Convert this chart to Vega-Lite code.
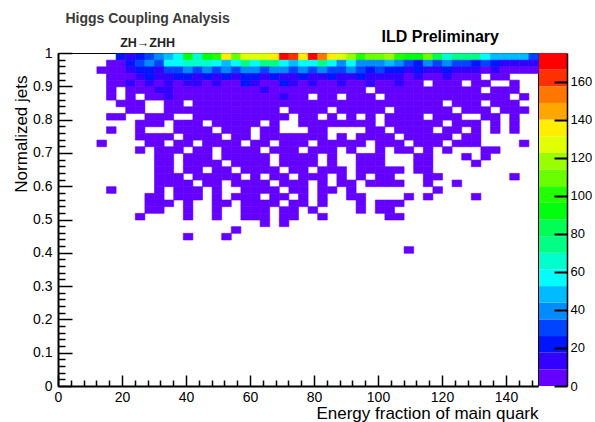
{
  "$schema": "https://vega.github.io/schema/vega-lite/v6.json",
  "background": "white",
  "padding": {"left": 11, "top": 11, "right": 0, "bottom": 0},
  "config": {
    "font": "Liberation Sans",
    "view": {"stroke": null},
    "axis": {"grid": false, "labelColor": "black", "tickColor": "black", "domainColor": "black", "labelFont": "Liberation Sans", "titleFont": "Liberation Sans", "titleColor": "black", "titleFontWeight": "normal", "labelOverlap": false, "labelFlush": false, "tickWidth": 1.5}
  },
  "datasets": {
    "levels": [
      {"lo": 0, "hi": 8.75}, {"lo": 8.75, "hi": 17.5}, {"lo": 17.5, "hi": 26.25}, {"lo": 26.25, "hi": 35},
      {"lo": 35, "hi": 43.75}, {"lo": 43.75, "hi": 52.5}, {"lo": 52.5, "hi": 61.25}, {"lo": 61.25, "hi": 70},
      {"lo": 70, "hi": 78.75}, {"lo": 78.75, "hi": 87.5}, {"lo": 87.5, "hi": 96.25}, {"lo": 96.25, "hi": 105},
      {"lo": 105, "hi": 113.75}, {"lo": 113.75, "hi": 122.5}, {"lo": 122.5, "hi": 131.25}, {"lo": 131.25, "hi": 140},
      {"lo": 140, "hi": 148.75}, {"lo": 148.75, "hi": 157.5}, {"lo": 157.5, "hi": 166.25}, {"lo": 166.25, "hi": 175}
    ],
    "cells": [
      {"x":18,"y":0.98,"n":22},{"x":21,"y":0.98,"n":13},{"x":24,"y":0.98,"n":22},{"x":27,"y":0.98,"n":31},{"x":30,"y":0.98,"n":39},{"x":33,"y":0.98,"n":48},{"x":36,"y":0.98,"n":57},{"x":39,"y":0.98,"n":92},{"x":42,"y":0.98,"n":66},{"x":45,"y":0.98,"n":92},{"x":48,"y":0.98,"n":101},{"x":51,"y":0.98,"n":136},{"x":54,"y":0.98,"n":109},{"x":57,"y":0.98,"n":127},{"x":60,"y":0.98,"n":127},{"x":63,"y":0.98,"n":126},{"x":66,"y":0.98,"n":136},{"x":69,"y":0.98,"n":171},{"x":72,"y":0.98,"n":162},{"x":75,"y":0.98,"n":136},{"x":78,"y":0.98,"n":174},{"x":81,"y":0.98,"n":153},{"x":84,"y":0.98,"n":136},{"x":87,"y":0.98,"n":127},{"x":90,"y":0.98,"n":118},{"x":93,"y":0.98,"n":101},{"x":96,"y":0.98,"n":109},{"x":99,"y":0.98,"n":109},{"x":102,"y":0.98,"n":118},{"x":105,"y":0.98,"n":101},{"x":108,"y":0.98,"n":92},{"x":111,"y":0.98,"n":92},{"x":114,"y":0.98,"n":109},{"x":117,"y":0.98,"n":83},{"x":120,"y":0.98,"n":66},{"x":123,"y":0.98,"n":74},{"x":126,"y":0.98,"n":74},{"x":129,"y":0.98,"n":74},{"x":132,"y":0.98,"n":57},{"x":135,"y":0.98,"n":48},{"x":138,"y":0.98,"n":48},{"x":141,"y":0.98,"n":48},{"x":144,"y":0.98,"n":48},{"x":147,"y":0.98,"n":31},
      {"x":15,"y":0.96,"n":4},{"x":18,"y":0.96,"n":5},{"x":21,"y":0.96,"n":22},{"x":24,"y":0.96,"n":31},{"x":27,"y":0.96,"n":39},{"x":30,"y":0.96,"n":31},{"x":33,"y":0.96,"n":57},{"x":36,"y":0.96,"n":57},{"x":39,"y":0.96,"n":66},{"x":42,"y":0.96,"n":66},{"x":45,"y":0.96,"n":66},{"x":48,"y":0.96,"n":57},{"x":51,"y":0.96,"n":48},{"x":54,"y":0.96,"n":57},{"x":57,"y":0.96,"n":74},{"x":60,"y":0.96,"n":57},{"x":63,"y":0.96,"n":74},{"x":66,"y":0.96,"n":74},{"x":69,"y":0.96,"n":57},{"x":72,"y":0.96,"n":48},{"x":75,"y":0.96,"n":57},{"x":78,"y":0.96,"n":57},{"x":81,"y":0.96,"n":74},{"x":84,"y":0.96,"n":57},{"x":87,"y":0.96,"n":39},{"x":90,"y":0.96,"n":57},{"x":93,"y":0.96,"n":39},{"x":96,"y":0.96,"n":39},{"x":99,"y":0.96,"n":39},{"x":102,"y":0.96,"n":48},{"x":105,"y":0.96,"n":39},{"x":108,"y":0.96,"n":31},{"x":111,"y":0.96,"n":22},{"x":114,"y":0.96,"n":39},{"x":117,"y":0.96,"n":31},{"x":120,"y":0.96,"n":39},{"x":123,"y":0.96,"n":31},{"x":126,"y":0.96,"n":31},{"x":129,"y":0.96,"n":22},{"x":132,"y":0.96,"n":31},{"x":135,"y":0.96,"n":22},{"x":138,"y":0.96,"n":13},{"x":141,"y":0.96,"n":13},{"x":144,"y":0.96,"n":13},{"x":147,"y":0.96,"n":13},
      {"x":12,"y":0.94,"n":3},{"x":15,"y":0.94,"n":5},{"x":18,"y":0.94,"n":6},{"x":21,"y":0.94,"n":13},{"x":24,"y":0.94,"n":22},{"x":27,"y":0.94,"n":22},{"x":30,"y":0.94,"n":13},{"x":33,"y":0.94,"n":31},{"x":36,"y":0.94,"n":31},{"x":39,"y":0.94,"n":39},{"x":42,"y":0.94,"n":31},{"x":45,"y":0.94,"n":39},{"x":48,"y":0.94,"n":31},{"x":51,"y":0.94,"n":39},{"x":54,"y":0.94,"n":31},{"x":57,"y":0.94,"n":39},{"x":60,"y":0.94,"n":39},{"x":63,"y":0.94,"n":31},{"x":66,"y":0.94,"n":39},{"x":69,"y":0.94,"n":39},{"x":72,"y":0.94,"n":31},{"x":75,"y":0.94,"n":39},{"x":78,"y":0.94,"n":31},{"x":81,"y":0.94,"n":39},{"x":84,"y":0.94,"n":31},{"x":87,"y":0.94,"n":31},{"x":90,"y":0.94,"n":39},{"x":93,"y":0.94,"n":31},{"x":96,"y":0.94,"n":22},{"x":99,"y":0.94,"n":31},{"x":102,"y":0.94,"n":22},{"x":105,"y":0.94,"n":22},{"x":108,"y":0.94,"n":13},{"x":111,"y":0.94,"n":22},{"x":114,"y":0.94,"n":13},{"x":117,"y":0.94,"n":13},{"x":120,"y":0.94,"n":22},{"x":123,"y":0.94,"n":13},{"x":126,"y":0.94,"n":13},{"x":129,"y":0.94,"n":13},{"x":132,"y":0.94,"n":7},{"x":135,"y":0.94,"n":13},{"x":138,"y":0.94,"n":7},{"x":141,"y":0.94,"n":6},{"x":144,"y":0.94,"n":5},{"x":147,"y":0.94,"n":4},
      {"x":15,"y":0.92,"n":3},{"x":18,"y":0.92,"n":6},{"x":21,"y":0.92,"n":7},{"x":24,"y":0.92,"n":13},{"x":27,"y":0.92,"n":20},{"x":30,"y":0.92,"n":14},{"x":33,"y":0.92,"n":12},{"x":36,"y":0.92,"n":19},{"x":39,"y":0.92,"n":21},{"x":42,"y":0.92,"n":15},{"x":45,"y":0.92,"n":19},{"x":48,"y":0.92,"n":14},{"x":51,"y":0.92,"n":20},{"x":54,"y":0.92,"n":13},{"x":57,"y":0.92,"n":21},{"x":60,"y":0.92,"n":19},{"x":63,"y":0.92,"n":15},{"x":66,"y":0.92,"n":20},{"x":69,"y":0.92,"n":14},{"x":72,"y":0.92,"n":12},{"x":75,"y":0.92,"n":19},{"x":78,"y":0.92,"n":16},{"x":81,"y":0.92,"n":13},{"x":84,"y":0.92,"n":20},{"x":87,"y":0.92,"n":14},{"x":90,"y":0.92,"n":12},{"x":93,"y":0.92,"n":18},{"x":96,"y":0.92,"n":15},{"x":99,"y":0.92,"n":12},{"x":102,"y":0.92,"n":11},{"x":105,"y":0.92,"n":10},{"x":108,"y":0.92,"n":8},{"x":111,"y":0.92,"n":11},{"x":114,"y":0.92,"n":7},{"x":117,"y":0.92,"n":6},{"x":120,"y":0.92,"n":10},{"x":123,"y":0.92,"n":7},{"x":126,"y":0.92,"n":5},{"x":129,"y":0.92,"n":4},{"x":135,"y":0.92,"n":3},{"x":138,"y":0.92,"n":2},
      {"x":15,"y":0.9,"n":4},{"x":18,"y":0.9,"n":6},{"x":21,"y":0.9,"n":10},{"x":24,"y":0.9,"n":7},{"x":27,"y":0.9,"n":11},{"x":30,"y":0.9,"n":8},{"x":33,"y":0.9,"n":12},{"x":36,"y":0.9,"n":8},{"x":39,"y":0.9,"n":10},{"x":42,"y":0.9,"n":11},{"x":45,"y":0.9,"n":8},{"x":48,"y":0.9,"n":12},{"x":51,"y":0.9,"n":7},{"x":54,"y":0.9,"n":8},{"x":57,"y":0.9,"n":18},{"x":60,"y":0.9,"n":13},{"x":63,"y":0.9,"n":8},{"x":66,"y":0.9,"n":7},{"x":69,"y":0.9,"n":19},{"x":72,"y":0.9,"n":11},{"x":75,"y":0.9,"n":8},{"x":78,"y":0.9,"n":10},{"x":81,"y":0.9,"n":7},{"x":84,"y":0.9,"n":8},{"x":87,"y":0.9,"n":10},{"x":90,"y":0.9,"n":8},{"x":93,"y":0.9,"n":7},{"x":96,"y":0.9,"n":10},{"x":99,"y":0.9,"n":7},{"x":102,"y":0.9,"n":6},{"x":105,"y":0.9,"n":9},{"x":108,"y":0.9,"n":6},{"x":111,"y":0.9,"n":5},{"x":117,"y":0.9,"n":5},{"x":120,"y":0.9,"n":4},{"x":123,"y":0.9,"n":4},{"x":129,"y":0.9,"n":3},{"x":132,"y":0.9,"n":3},{"x":141,"y":0.9,"n":2},
      {"x":15,"y":0.88,"n":3},{"x":21,"y":0.88,"n":5},{"x":24,"y":0.88,"n":6},{"x":27,"y":0.88,"n":7},{"x":30,"y":0.88,"n":10},{"x":33,"y":0.88,"n":9},{"x":36,"y":0.88,"n":7},{"x":39,"y":0.88,"n":8},{"x":42,"y":0.88,"n":7},{"x":45,"y":0.88,"n":8},{"x":48,"y":0.88,"n":6},{"x":51,"y":0.88,"n":7},{"x":54,"y":0.88,"n":8},{"x":57,"y":0.88,"n":7},{"x":60,"y":0.88,"n":6},{"x":63,"y":0.88,"n":10},{"x":66,"y":0.88,"n":7},{"x":69,"y":0.88,"n":8},{"x":72,"y":0.88,"n":6},{"x":75,"y":0.88,"n":7},{"x":78,"y":0.88,"n":6},{"x":81,"y":0.88,"n":8},{"x":84,"y":0.88,"n":7},{"x":87,"y":0.88,"n":6},{"x":90,"y":0.88,"n":7},{"x":93,"y":0.88,"n":6},{"x":99,"y":0.88,"n":5},{"x":102,"y":0.88,"n":6},{"x":105,"y":0.88,"n":5},{"x":108,"y":0.88,"n":4},{"x":111,"y":0.88,"n":5},{"x":114,"y":0.88,"n":4},{"x":117,"y":0.88,"n":3},{"x":120,"y":0.88,"n":4},{"x":123,"y":0.88,"n":3},{"x":126,"y":0.88,"n":3},{"x":129,"y":0.88,"n":2},{"x":135,"y":0.88,"n":2},{"x":138,"y":0.88,"n":3},{"x":141,"y":0.88,"n":2},
      {"x":15,"y":0.86,"n":2},{"x":21,"y":0.86,"n":4},{"x":27,"y":0.86,"n":5},{"x":30,"y":0.86,"n":6},{"x":33,"y":0.86,"n":9},{"x":36,"y":0.86,"n":6},{"x":39,"y":0.86,"n":7},{"x":42,"y":0.86,"n":6},{"x":45,"y":0.86,"n":5},{"x":48,"y":0.86,"n":7},{"x":51,"y":0.86,"n":6},{"x":54,"y":0.86,"n":5},{"x":57,"y":0.86,"n":6},{"x":60,"y":0.86,"n":7},{"x":63,"y":0.86,"n":5},{"x":66,"y":0.86,"n":6},{"x":69,"y":0.86,"n":10},{"x":72,"y":0.86,"n":6},{"x":75,"y":0.86,"n":5},{"x":81,"y":0.86,"n":6},{"x":84,"y":0.86,"n":5},{"x":90,"y":0.86,"n":5},{"x":93,"y":0.86,"n":6},{"x":96,"y":0.86,"n":4},{"x":102,"y":0.86,"n":5},{"x":105,"y":0.86,"n":4},{"x":108,"y":0.86,"n":5},{"x":111,"y":0.86,"n":4},{"x":114,"y":0.86,"n":3},{"x":117,"y":0.86,"n":4},{"x":120,"y":0.86,"n":3},{"x":123,"y":0.86,"n":3},{"x":126,"y":0.86,"n":2},{"x":129,"y":0.86,"n":3},{"x":132,"y":0.86,"n":2},{"x":135,"y":0.86,"n":2},{"x":138,"y":0.86,"n":1},{"x":144,"y":0.86,"n":1},
      {"x":18,"y":0.84,"n":3},{"x":21,"y":0.84,"n":4},{"x":24,"y":0.84,"n":5},{"x":33,"y":0.84,"n":5},{"x":36,"y":0.84,"n":6},{"x":42,"y":0.84,"n":6},{"x":45,"y":0.84,"n":5},{"x":48,"y":0.84,"n":6},{"x":51,"y":0.84,"n":5},{"x":54,"y":0.84,"n":6},{"x":57,"y":0.84,"n":5},{"x":60,"y":0.84,"n":6},{"x":63,"y":0.84,"n":5},{"x":66,"y":0.84,"n":4},{"x":69,"y":0.84,"n":5},{"x":72,"y":0.84,"n":6},{"x":75,"y":0.84,"n":5},{"x":78,"y":0.84,"n":4},{"x":81,"y":0.84,"n":5},{"x":84,"y":0.84,"n":6},{"x":87,"y":0.84,"n":5},{"x":90,"y":0.84,"n":4},{"x":93,"y":0.84,"n":5},{"x":96,"y":0.84,"n":4},{"x":99,"y":0.84,"n":5},{"x":102,"y":0.84,"n":4},{"x":105,"y":0.84,"n":3},{"x":108,"y":0.84,"n":4},{"x":111,"y":0.84,"n":3},{"x":114,"y":0.84,"n":4},{"x":117,"y":0.84,"n":3},{"x":123,"y":0.84,"n":3},{"x":126,"y":0.84,"n":2},{"x":129,"y":0.84,"n":3},{"x":135,"y":0.84,"n":2},{"x":138,"y":0.84,"n":2},{"x":141,"y":0.84,"n":1},
      {"x":21,"y":0.82,"n":2},{"x":24,"y":0.82,"n":3},{"x":33,"y":0.82,"n":4},{"x":36,"y":0.82,"n":5},{"x":39,"y":0.82,"n":4},{"x":42,"y":0.82,"n":5},{"x":45,"y":0.82,"n":4},{"x":48,"y":0.82,"n":5},{"x":51,"y":0.82,"n":6},{"x":54,"y":0.82,"n":4},{"x":57,"y":0.82,"n":5},{"x":60,"y":0.82,"n":5},{"x":63,"y":0.82,"n":4},{"x":66,"y":0.82,"n":5},{"x":72,"y":0.82,"n":4},{"x":75,"y":0.82,"n":5},{"x":78,"y":0.82,"n":4},{"x":81,"y":0.82,"n":5},{"x":87,"y":0.82,"n":4},{"x":90,"y":0.82,"n":5},{"x":93,"y":0.82,"n":4},{"x":96,"y":0.82,"n":3},{"x":99,"y":0.82,"n":4},{"x":105,"y":0.82,"n":3},{"x":108,"y":0.82,"n":4},{"x":111,"y":0.82,"n":3},{"x":114,"y":0.82,"n":3},{"x":117,"y":0.82,"n":4},{"x":120,"y":0.82,"n":3},{"x":126,"y":0.82,"n":2},{"x":129,"y":0.82,"n":3},{"x":132,"y":0.82,"n":2},{"x":138,"y":0.82,"n":2},{"x":141,"y":0.82,"n":1},{"x":144,"y":0.82,"n":1},
      {"x":15,"y":0.8,"n":1},{"x":18,"y":0.8,"n":2},{"x":27,"y":0.8,"n":3},{"x":30,"y":0.8,"n":4},{"x":33,"y":0.8,"n":3},{"x":42,"y":0.8,"n":4},{"x":45,"y":0.8,"n":5},{"x":48,"y":0.8,"n":4},{"x":51,"y":0.8,"n":3},{"x":54,"y":0.8,"n":4},{"x":57,"y":0.8,"n":5},{"x":60,"y":0.8,"n":4},{"x":63,"y":0.8,"n":3},{"x":66,"y":0.8,"n":4},{"x":69,"y":0.8,"n":3},{"x":75,"y":0.8,"n":4},{"x":78,"y":0.8,"n":3},{"x":84,"y":0.8,"n":4},{"x":90,"y":0.8,"n":3},{"x":96,"y":0.8,"n":3},{"x":102,"y":0.8,"n":4},{"x":105,"y":0.8,"n":3},{"x":108,"y":0.8,"n":2},{"x":111,"y":0.8,"n":3},{"x":117,"y":0.8,"n":2},{"x":120,"y":0.8,"n":3},{"x":123,"y":0.8,"n":2},{"x":132,"y":0.8,"n":2},{"x":135,"y":0.8,"n":1},{"x":141,"y":0.8,"n":1},
      {"x":24,"y":0.78,"n":2},{"x":27,"y":0.78,"n":3},{"x":30,"y":0.78,"n":3},{"x":36,"y":0.78,"n":4},{"x":39,"y":0.78,"n":3},{"x":42,"y":0.78,"n":4},{"x":48,"y":0.78,"n":3},{"x":51,"y":0.78,"n":4},{"x":54,"y":0.78,"n":3},{"x":57,"y":0.78,"n":4},{"x":60,"y":0.78,"n":3},{"x":66,"y":0.78,"n":4},{"x":75,"y":0.78,"n":3},{"x":78,"y":0.78,"n":4},{"x":81,"y":0.78,"n":3},{"x":84,"y":0.78,"n":4},{"x":87,"y":0.78,"n":3},{"x":90,"y":0.78,"n":3},{"x":93,"y":0.78,"n":4},{"x":96,"y":0.78,"n":3},{"x":102,"y":0.78,"n":3},{"x":105,"y":0.78,"n":2},{"x":108,"y":0.78,"n":3},{"x":111,"y":0.78,"n":2},{"x":114,"y":0.78,"n":3},{"x":117,"y":0.78,"n":2},{"x":123,"y":0.78,"n":2},{"x":126,"y":0.78,"n":1},{"x":129,"y":0.78,"n":2},{"x":135,"y":0.78,"n":1},{"x":141,"y":0.78,"n":1},
      {"x":15,"y":0.76,"n":1},{"x":24,"y":0.76,"n":2},{"x":36,"y":0.76,"n":3},{"x":39,"y":0.76,"n":2},{"x":42,"y":0.76,"n":3},{"x":45,"y":0.76,"n":3},{"x":51,"y":0.76,"n":2},{"x":54,"y":0.76,"n":3},{"x":57,"y":0.76,"n":3},{"x":63,"y":0.76,"n":3},{"x":66,"y":0.76,"n":2},{"x":78,"y":0.76,"n":3},{"x":81,"y":0.76,"n":2},{"x":96,"y":0.76,"n":2},{"x":99,"y":0.76,"n":3},{"x":105,"y":0.76,"n":2},{"x":108,"y":0.76,"n":3},{"x":111,"y":0.76,"n":2},{"x":114,"y":0.76,"n":2},{"x":120,"y":0.76,"n":2},{"x":123,"y":0.76,"n":1},{"x":129,"y":0.76,"n":1},{"x":135,"y":0.76,"n":1},{"x":141,"y":0.76,"n":1},
      {"x":24,"y":0.74,"n":1},{"x":27,"y":0.74,"n":2},{"x":30,"y":0.74,"n":3},{"x":33,"y":0.74,"n":2},{"x":39,"y":0.74,"n":3},{"x":42,"y":0.74,"n":2},{"x":45,"y":0.74,"n":3},{"x":48,"y":0.74,"n":2},{"x":54,"y":0.74,"n":3},{"x":57,"y":0.74,"n":2},{"x":63,"y":0.74,"n":3},{"x":66,"y":0.74,"n":2},{"x":69,"y":0.74,"n":3},{"x":72,"y":0.74,"n":2},{"x":75,"y":0.74,"n":3},{"x":78,"y":0.74,"n":2},{"x":81,"y":0.74,"n":2},{"x":87,"y":0.74,"n":2},{"x":93,"y":0.74,"n":2},{"x":96,"y":0.74,"n":3},{"x":99,"y":0.74,"n":2},{"x":102,"y":0.74,"n":2},{"x":108,"y":0.74,"n":2},{"x":111,"y":0.74,"n":1},{"x":114,"y":0.74,"n":2},{"x":117,"y":0.74,"n":1},{"x":120,"y":0.74,"n":1},{"x":126,"y":0.74,"n":1},{"x":129,"y":0.74,"n":2},
      {"x":12,"y":0.72,"n":1},{"x":27,"y":0.72,"n":2},{"x":30,"y":0.72,"n":2},{"x":36,"y":0.72,"n":3},{"x":39,"y":0.72,"n":2},{"x":45,"y":0.72,"n":2},{"x":48,"y":0.72,"n":3},{"x":51,"y":0.72,"n":2},{"x":54,"y":0.72,"n":2},{"x":60,"y":0.72,"n":2},{"x":63,"y":0.72,"n":3},{"x":69,"y":0.72,"n":2},{"x":72,"y":0.72,"n":2},{"x":75,"y":0.72,"n":3},{"x":81,"y":0.72,"n":2},{"x":84,"y":0.72,"n":2},{"x":87,"y":0.72,"n":2},{"x":90,"y":0.72,"n":2},{"x":93,"y":0.72,"n":1},{"x":99,"y":0.72,"n":2},{"x":102,"y":0.72,"n":2},{"x":105,"y":0.72,"n":1},{"x":111,"y":0.72,"n":2},{"x":114,"y":0.72,"n":1},{"x":117,"y":0.72,"n":2},{"x":123,"y":0.72,"n":1},{"x":126,"y":0.72,"n":1},{"x":129,"y":0.72,"n":1},{"x":144,"y":0.72,"n":1},
      {"x":24,"y":0.7,"n":1},{"x":30,"y":0.7,"n":2},{"x":33,"y":0.7,"n":2},{"x":36,"y":0.7,"n":1},{"x":42,"y":0.7,"n":2},{"x":45,"y":0.7,"n":2},{"x":51,"y":0.7,"n":2},{"x":54,"y":0.7,"n":1},{"x":57,"y":0.7,"n":2},{"x":60,"y":0.7,"n":2},{"x":66,"y":0.7,"n":2},{"x":69,"y":0.7,"n":1},{"x":72,"y":0.7,"n":2},{"x":78,"y":0.7,"n":2},{"x":81,"y":0.7,"n":1},{"x":84,"y":0.7,"n":2},{"x":90,"y":0.7,"n":1},{"x":99,"y":0.7,"n":2},{"x":105,"y":0.7,"n":1},{"x":108,"y":0.7,"n":2},{"x":114,"y":0.7,"n":1},{"x":120,"y":0.7,"n":1},{"x":132,"y":0.7,"n":1},{"x":135,"y":0.7,"n":1},
      {"x":30,"y":0.68,"n":1},{"x":33,"y":0.68,"n":2},{"x":39,"y":0.68,"n":2},{"x":42,"y":0.68,"n":1},{"x":45,"y":0.68,"n":2},{"x":51,"y":0.68,"n":1},{"x":54,"y":0.68,"n":2},{"x":57,"y":0.68,"n":1},{"x":60,"y":0.68,"n":2},{"x":63,"y":0.68,"n":1},{"x":69,"y":0.68,"n":2},{"x":72,"y":0.68,"n":1},{"x":75,"y":0.68,"n":2},{"x":78,"y":0.68,"n":1},{"x":84,"y":0.68,"n":1},{"x":93,"y":0.68,"n":1},{"x":96,"y":0.68,"n":2},{"x":99,"y":0.68,"n":1},{"x":111,"y":0.68,"n":1},{"x":114,"y":0.68,"n":1},{"x":126,"y":0.68,"n":1},{"x":132,"y":0.68,"n":1},
      {"x":30,"y":0.66,"n":1},{"x":33,"y":0.66,"n":1},{"x":39,"y":0.66,"n":2},{"x":42,"y":0.66,"n":1},{"x":45,"y":0.66,"n":2},{"x":48,"y":0.66,"n":1},{"x":54,"y":0.66,"n":1},{"x":57,"y":0.66,"n":2},{"x":60,"y":0.66,"n":1},{"x":63,"y":0.66,"n":1},{"x":69,"y":0.66,"n":2},{"x":72,"y":0.66,"n":1},{"x":75,"y":0.66,"n":1},{"x":78,"y":0.66,"n":2},{"x":84,"y":0.66,"n":1},{"x":93,"y":0.66,"n":1},{"x":96,"y":0.66,"n":1},{"x":99,"y":0.66,"n":2},{"x":111,"y":0.66,"n":1},{"x":114,"y":0.66,"n":1},{"x":129,"y":0.66,"n":1},
      {"x":30,"y":0.64,"n":1},{"x":33,"y":0.64,"n":1},{"x":39,"y":0.64,"n":1},{"x":42,"y":0.64,"n":2},{"x":48,"y":0.64,"n":1},{"x":51,"y":0.64,"n":1},{"x":57,"y":0.64,"n":1},{"x":60,"y":0.64,"n":2},{"x":63,"y":0.64,"n":1},{"x":66,"y":0.64,"n":1},{"x":72,"y":0.64,"n":1},{"x":75,"y":0.64,"n":2},{"x":81,"y":0.64,"n":1},{"x":84,"y":0.64,"n":1},{"x":87,"y":0.64,"n":1},{"x":93,"y":0.64,"n":1},{"x":96,"y":0.64,"n":1},{"x":99,"y":0.64,"n":2},{"x":102,"y":0.64,"n":1},{"x":105,"y":0.64,"n":1},{"x":111,"y":0.64,"n":1},{"x":114,"y":0.64,"n":1},
      {"x":30,"y":0.62,"n":1},{"x":33,"y":0.62,"n":1},{"x":36,"y":0.62,"n":1},{"x":42,"y":0.62,"n":1},{"x":45,"y":0.62,"n":2},{"x":48,"y":0.62,"n":1},{"x":51,"y":0.62,"n":1},{"x":54,"y":0.62,"n":1},{"x":60,"y":0.62,"n":1},{"x":66,"y":0.62,"n":1},{"x":69,"y":0.62,"n":2},{"x":75,"y":0.62,"n":1},{"x":78,"y":0.62,"n":1},{"x":81,"y":0.62,"n":1},{"x":87,"y":0.62,"n":1},{"x":93,"y":0.62,"n":1},{"x":99,"y":0.62,"n":1},{"x":102,"y":0.62,"n":1},{"x":114,"y":0.62,"n":1},{"x":117,"y":0.62,"n":1},{"x":141,"y":0.62,"n":1},
      {"x":30,"y":0.6,"n":1},{"x":33,"y":0.6,"n":1},{"x":36,"y":0.6,"n":1},{"x":39,"y":0.6,"n":1},{"x":45,"y":0.6,"n":1},{"x":48,"y":0.6,"n":1},{"x":54,"y":0.6,"n":1},{"x":57,"y":0.6,"n":1},{"x":60,"y":0.6,"n":1},{"x":63,"y":0.6,"n":1},{"x":69,"y":0.6,"n":1},{"x":72,"y":0.6,"n":1},{"x":75,"y":0.6,"n":1},{"x":81,"y":0.6,"n":1},{"x":87,"y":0.6,"n":1},{"x":90,"y":0.6,"n":1},{"x":96,"y":0.6,"n":1},{"x":99,"y":0.6,"n":1},{"x":102,"y":0.6,"n":1},{"x":105,"y":0.6,"n":1},{"x":114,"y":0.6,"n":1},{"x":123,"y":0.6,"n":1},
      {"x":15,"y":0.58,"n":1},{"x":30,"y":0.58,"n":1},{"x":36,"y":0.58,"n":1},{"x":39,"y":0.58,"n":1},{"x":42,"y":0.58,"n":1},{"x":48,"y":0.58,"n":1},{"x":57,"y":0.58,"n":1},{"x":60,"y":0.58,"n":1},{"x":63,"y":0.58,"n":1},{"x":66,"y":0.58,"n":1},{"x":72,"y":0.58,"n":1},{"x":75,"y":0.58,"n":1},{"x":81,"y":0.58,"n":1},{"x":84,"y":0.58,"n":1},{"x":90,"y":0.58,"n":1},{"x":117,"y":0.58,"n":1},
      {"x":27,"y":0.56,"n":1},{"x":30,"y":0.56,"n":1},{"x":36,"y":0.56,"n":1},{"x":39,"y":0.56,"n":1},{"x":42,"y":0.56,"n":1},{"x":48,"y":0.56,"n":1},{"x":54,"y":0.56,"n":1},{"x":57,"y":0.56,"n":1},{"x":60,"y":0.56,"n":1},{"x":66,"y":0.56,"n":1},{"x":69,"y":0.56,"n":1},{"x":75,"y":0.56,"n":1},{"x":81,"y":0.56,"n":1},{"x":90,"y":0.56,"n":1},{"x":93,"y":0.56,"n":1},{"x":108,"y":0.56,"n":1},{"x":114,"y":0.56,"n":1},{"x":129,"y":0.56,"n":1},
      {"x":27,"y":0.54,"n":1},{"x":30,"y":0.54,"n":1},{"x":33,"y":0.54,"n":1},{"x":39,"y":0.54,"n":1},{"x":48,"y":0.54,"n":1},{"x":51,"y":0.54,"n":1},{"x":57,"y":0.54,"n":1},{"x":60,"y":0.54,"n":1},{"x":63,"y":0.54,"n":1},{"x":66,"y":0.54,"n":1},{"x":72,"y":0.54,"n":1},{"x":75,"y":0.54,"n":1},{"x":81,"y":0.54,"n":1},{"x":93,"y":0.54,"n":1},{"x":99,"y":0.54,"n":1},{"x":102,"y":0.54,"n":1},{"x":105,"y":0.54,"n":1},
      {"x":27,"y":0.52,"n":1},{"x":30,"y":0.52,"n":1},{"x":39,"y":0.52,"n":1},{"x":48,"y":0.52,"n":1},{"x":57,"y":0.52,"n":1},{"x":60,"y":0.52,"n":1},{"x":63,"y":0.52,"n":1},{"x":69,"y":0.52,"n":1},{"x":72,"y":0.52,"n":1},{"x":78,"y":0.52,"n":1},{"x":93,"y":0.52,"n":1},{"x":99,"y":0.52,"n":1},{"x":102,"y":0.52,"n":1},
      {"x":24,"y":0.5,"n":1},{"x":39,"y":0.5,"n":1},{"x":48,"y":0.5,"n":1},{"x":57,"y":0.5,"n":1},{"x":60,"y":0.5,"n":1},{"x":63,"y":0.5,"n":1},{"x":69,"y":0.5,"n":1},{"x":72,"y":0.5,"n":1},{"x":81,"y":0.5,"n":1},{"x":102,"y":0.5,"n":1},{"x":105,"y":0.5,"n":1},
      {"x":63,"y":0.48,"n":1},{"x":69,"y":0.48,"n":1},
      {"x":54,"y":0.46,"n":1},
      {"x":39,"y":0.44,"n":1},{"x":51,"y":0.44,"n":1},
      {"x":108,"y":0.4,"n":1}
    ]
  },
  "bounds": "flush",
  "spacing": 1,
  "hconcat": [
    {
      "width": 480,
      "height": 333,
      "view": {"stroke": "black", "strokeWidth": 1},
      "layer": [
        {
          "data": {"name": "cells"},
          "mark": {"type": "rect", "strokeWidth": 0.6},
          "encoding": {
            "x": {
              "field": "x", "type": "quantitative", "bin": {"binned": true, "step": 3},
              "scale": {"domain": [0, 150], "nice": false, "zero": false},
              "axis": {
                "zindex": 1,
                "values": [0,4,8,12,16,20,24,28,32,36,40,44,48,52,56,60,64,68,72,76,80,84,88,92,96,100,104,108,112,116,120,124,128,132,136,140,144,148],
                "labelExpr": "datum.value % 20 === 0 ? format(datum.value, 'd') : ''",
                "tickSize": {"condition": {"test": "datum.value % 20 === 0", "value": -11}, "value": -6},
                "labelPadding": 15, "labelFontSize": 14, "domainWidth": 2,
                "title": "Energy fraction of main quark", "titleFontSize": 17,
                "titleAlign": "right", "titleBaseline": "alphabetic", "titleX": 480, "titleY": 32
              }
            },
            "y": {
              "field": "y", "type": "quantitative", "bin": {"binned": true, "step": 0.02},
              "scale": {"domain": [0, 1], "nice": false, "zero": false},
              "axis": {
                "zindex": 1,
                "values": [0,0.02,0.04,0.06,0.08,0.1,0.12,0.14,0.16,0.18,0.2,0.22,0.24,0.26,0.28,0.3,0.32,0.34,0.36,0.38,0.4,0.42,0.44,0.46,0.48,0.5,0.52,0.54,0.56,0.58,0.6,0.62,0.64,0.66,0.68,0.7,0.72,0.74,0.76,0.78,0.8,0.82,0.84,0.86,0.88,0.9,0.92,0.94,0.96,0.98,1],
                "labelExpr": "abs(datum.value * 10 - round(datum.value * 10)) < 0.001 ? format(datum.value, '~g') : ''",
                "tickSize": {"condition": {"test": "abs(datum.value * 10 - round(datum.value * 10)) < 0.001", "value": -14}, "value": -7},
                "labelPadding": 20, "labelFontSize": 14, "domainWidth": 2,
                "title": "Normalized jets", "titleFontSize": 17, "titleAngle": -90,
                "titleAlign": "right", "titleBaseline": "alphabetic", "titleX": -32, "titleY": 22
              }
            },
            "color": {
              "field": "n", "type": "quantitative", "legend": null,
              "scale": {"type": "threshold", "domain": [8.75,17.5,26.25,35,43.75,52.5,61.25,70,78.75,87.5,96.25,105,113.75,122.5,131.25,140,148.75,157.5,166.25],
                "range": ["#6300ff","#3300ff","#0014ff","#0044ff","#008bff","#00bbff","#00fffc","#00ffcc","#00ff85","#00ff55","#00ff0e","#22ff00","#69ff00","#99ff00","#e0ff00","#ffee00","#ffa700","#ff7700","#ff3000","#ff0000"]}
            },
            "stroke": {
              "field": "n", "type": "quantitative", "legend": null,
              "scale": {"type": "threshold", "domain": [8.75,17.5,26.25,35,43.75,52.5,61.25,70,78.75,87.5,96.25,105,113.75,122.5,131.25,140,148.75,157.5,166.25],
                "range": ["#6300ff","#3300ff","#0014ff","#0044ff","#008bff","#00bbff","#00fffc","#00ffcc","#00ff85","#00ff55","#00ff0e","#22ff00","#69ff00","#99ff00","#e0ff00","#ffee00","#ffa700","#ff7700","#ff3000","#ff0000"]}
            }
          }
        },
        {
          "data": {"values": [{"label": "Higgs Coupling Analysis"}]},
          "mark": {"type": "text", "fontSize": 14, "fontWeight": "bold", "color": "#3a3a3a", "align": "center", "baseline": "alphabetic"},
          "encoding": {"x": {"datum": 28}, "y": {"datum": 1.09}, "text": {"field": "label"}}
        },
        {
          "data": {"values": [{"label": "ZH→ZHH"}]},
          "mark": {"type": "text", "fontSize": 12.5, "fontWeight": "bold", "color": "#222222", "align": "center", "baseline": "alphabetic"},
          "encoding": {"x": {"datum": 28}, "y": {"datum": 1.018}, "text": {"field": "label"}}
        },
        {
          "data": {"values": [{"label": "ILD Preliminary"}]},
          "mark": {"type": "text", "fontSize": 16, "fontWeight": "bold", "color": "black", "align": "right", "baseline": "alphabetic"},
          "encoding": {"x": {"datum": 137.8}, "y": {"datum": 1.033}, "text": {"field": "label"}}
        }
      ]
    },
    {
      "width": 28,
      "height": 333,
      "data": {"name": "levels"},
      "mark": {"type": "rect"},
      "encoding": {
        "y": {
          "field": "lo", "type": "quantitative",
          "scale": {"domain": [0, 175], "nice": false},
          "axis": {"zindex": 1, "orient": "right", "values": [0,20,40,60,80,100,120,140,160], "title": null, "tickSize": -13, "tickWidth": 2, "tickColor": "black", "labelPadding": 16, "labelFontSize": 13, "domainWidth": 1.5}
        },
        "y2": {"field": "hi"},
        "color": {
          "field": "lo", "type": "quantitative", "legend": null,
          "scale": {"type": "threshold", "domain": [8.75,17.5,26.25,35,43.75,52.5,61.25,70,78.75,87.5,96.25,105,113.75,122.5,131.25,140,148.75,157.5,166.25],
            "range": ["#6300ff","#3300ff","#0014ff","#0044ff","#008bff","#00bbff","#00fffc","#00ffcc","#00ff85","#00ff55","#00ff0e","#22ff00","#69ff00","#99ff00","#e0ff00","#ffee00","#ffa700","#ff7700","#ff3000","#ff0000"]}
        }
      }
    }
  ]
}
